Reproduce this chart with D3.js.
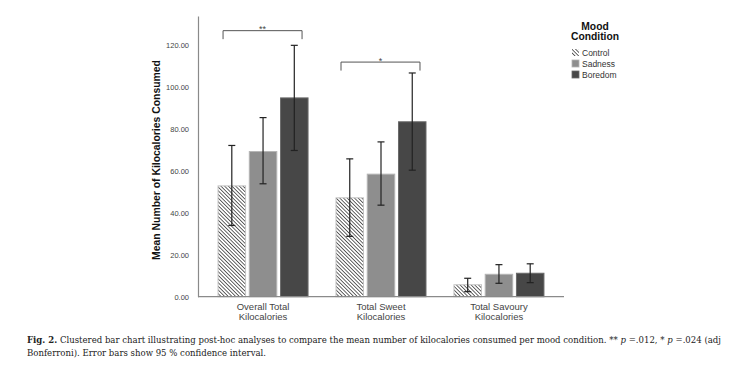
<!DOCTYPE html>
<html><head><meta charset="utf-8">
<script src="https://cdn.jsdelivr.net/npm/d3@7"></script>
<style>body{margin:0;background:#fff}svg{display:block}</style>
</head><body>
<svg id="c" width="756" height="365"></svg>
<script>
const categories = [["Overall Total","Kilocalories"],["Total Sweet","Kilocalories"],["Total Savoury","Kilocalories"]];
const series = ["Control","Sadness","Boredom"];
const means = [[52.9,69.3,94.9],[47.2,58.5,83.5],[5.7,10.7,11.2]];
const ciLow = [[34.0,53.9,69.8],[28.8,43.7,60.4],[2.4,6.4,6.7]];
const ciHigh = [[72.2,85.5,120.0],[65.8,73.9,106.8],[8.8,15.3,15.7]];
const yTicks = [0,20,40,60,80,100,120];
const brackets = [{cat:0, from:0, to:2, label:"**", level:127}, {cat:1, from:0, to:2, label:"*", level:112}];
const yTitle = "Mean Number of Kilocalories Consumed";
const legendTitle = ["Mood","Condition"];

const svg = d3.select("#c");
const defs = svg.append("defs");
const pat = defs.append("pattern").attr("id","hatch").attr("patternUnits","userSpaceOnUse")
  .attr("width",2.6).attr("height",2.6).attr("patternTransform","rotate(-45)");
pat.append("rect").attr("width",2.6).attr("height",2.6).attr("fill","#fff");
pat.append("line").attr("x1",0).attr("y1",0).attr("x2",0).attr("y2",2.6).attr("stroke","#333").attr("stroke-width",1.5);

const fills = ["url(#hatch)","#8e8e8e","#474747"];
const strokes = ["#c4c4c4","#b5b5b5","#6a6a6a"];

const y = d3.scaleLinear().domain([0,134]).range([296.7,16]);
const catIdx = categories.map((d,i)=>i);
const x0 = d3.scaleBand().domain(catIdx).range([198,564]).paddingInner(0.237).paddingOuter(0.17);
const x1 = d3.scaleBand().domain(series).range([0,x0.bandwidth()]).paddingInner(0.12);

// axes
const yAxis = d3.axisLeft(y).tickValues(yTicks).tickSize(0).tickPadding(9).tickFormat(d3.format(".2f"));
const gy = svg.append("g").attr("transform","translate(198,0)").call(yAxis);
gy.select(".domain").attr("stroke","#8a8a8a").attr("stroke-width",1.2);
gy.selectAll("text").attr("font-family","Liberation Sans, Arial").attr("font-size",7.5).attr("fill","#444");

// bars
catIdx.forEach(ci=>{
  const g = svg.append("g").attr("transform",`translate(${x0(ci)},0)`);
  series.forEach((s,si)=>{
    g.append("rect").attr("x",x1(s)).attr("y",y(means[ci][si]))
      .attr("width",x1.bandwidth()).attr("height",y(0)-y(means[ci][si]))
      .attr("fill",fills[si]).attr("stroke",strokes[si]).attr("stroke-width",1);
  });
  series.forEach((s,si)=>{
    const cx = x1(s)+x1.bandwidth()/2;
    g.append("line").attr("x1",cx).attr("x2",cx).attr("y1",y(ciLow[ci][si])).attr("y2",y(ciHigh[ci][si]))
      .attr("stroke","#222").attr("stroke-width",1.2);
    [ciLow[ci][si],ciHigh[ci][si]].forEach(v=>{
      g.append("line").attr("x1",cx-3.5).attr("x2",cx+3.5).attr("y1",y(v)).attr("y2",y(v))
        .attr("stroke","#222").attr("stroke-width",1.2);
    });
  });
});

// baseline
svg.append("line").attr("x1",198).attr("x2",564).attr("y1",y(0)).attr("y2",y(0)).attr("stroke","#8a8a8a").attr("stroke-width",1.2);

// x labels
catIdx.forEach(ci=>{
  const cx = x0(ci)+x0.bandwidth()/2;
  const t = svg.append("text").attr("x",cx).attr("y",310).attr("text-anchor","middle")
    .attr("font-family","Liberation Sans, Arial").attr("font-size",9.5).attr("fill","#444");
  categories[ci].forEach((l,li)=>t.append("tspan").attr("x",cx).attr("dy",li?10:0).text(l));
});

// brackets
brackets.forEach(b=>{
  const xa = x0(b.cat)+x1(series[b.from])+5;
  const xb = x0(b.cat)+x1(series[b.to])+x1.bandwidth()-6;
  const yt = y(b.level);
  svg.append("path").attr("d",`M${xa},${yt+8.5}V${yt}H${xb}V${yt+8.5}`).attr("fill","none")
    .attr("stroke","#555").attr("stroke-width",1);
  svg.append("text").attr("x",(xa+xb)/2).attr("y",yt+1.5).attr("text-anchor","middle")
    .attr("font-family","Liberation Sans, Arial").attr("font-size",9).attr("fill","#444").text(b.label);
});

// y title
svg.append("text").attr("transform","translate(160,160) rotate(-90)").attr("text-anchor","middle")
  .attr("font-family","Liberation Sans, Arial").attr("font-weight","bold").attr("font-size",10.4).attr("fill","#111").text(yTitle);

// legend
legendTitle.forEach((t,i)=>svg.append("text").attr("x",595).attr("y",29.5+i*10.5).attr("text-anchor","middle")
  .attr("font-family","Liberation Sans, Arial").attr("font-weight","bold").attr("font-size",10.3).attr("fill","#111").text(t));
series.forEach((s,si)=>{
  const yy = 49+si*11;
  svg.append("rect").attr("x",572).attr("y",yy).attr("width",7).attr("height",7)
    .attr("fill",fills[si]).attr("stroke",si?strokes[si]:"none").attr("stroke-width",si?0.8:0);
  svg.append("text").attr("x",582).attr("y",yy+6.5).attr("font-family","Liberation Sans, Arial")
    .attr("font-size",8.5).attr("fill","#333").text(s);
});

// caption
const capFont = "DejaVu Serif, Georgia, serif";
const cap = svg.append("text").attr("x",27).attr("y",343).attr("font-family",capFont)
  .attr("font-size",9).attr("fill","#222");
cap.append("tspan").attr("font-weight","bold").text("Fig. 2.");
cap.append("tspan").text(" Clustered bar chart illustrating post-hoc analyses to compare the mean number of kilocalories consumed per mood condition. ** ");
cap.append("tspan").attr("font-style","italic").text("p");
cap.append("tspan").text(" =.012, * ");
cap.append("tspan").attr("font-style","italic").text("p");
cap.append("tspan").text(" =.024 (adj");
const cap2 = svg.append("text").attr("x",27).attr("y",356).attr("font-family",capFont)
  .attr("font-size",9).attr("fill","#222").text("Bonferroni). Error bars show 95 % confidence interval.");
// fit first line to the width of the printed caption
const w = cap.node().getComputedTextLength();
const fs = 9*695/w;
cap.attr("font-size",fs); cap2.attr("font-size",fs);
</script>
</body></html>
